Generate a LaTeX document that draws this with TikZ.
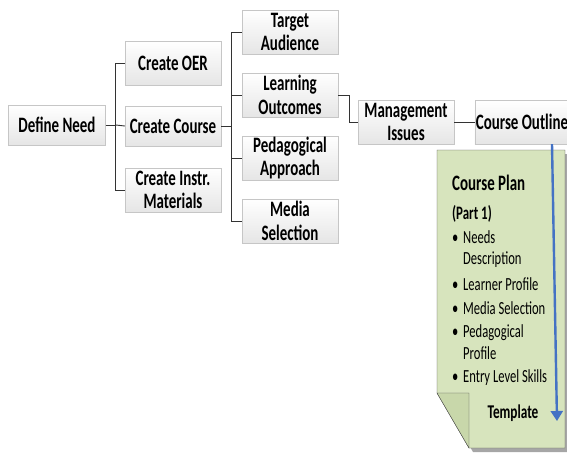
\documentclass[tikz,border=0pt]{standalone}
\usepackage{fontspec}
\setmainfont[FakeStretch=0.68]{Carlito}
\usetikzlibrary{arrows.meta}
\definecolor{notegreen}{RGB}{215,228,189}
\definecolor{foldgreen}{RGB}{200,215,170}
\definecolor{arrowblue}{RGB}{68,114,196}
\tikzset{%
  box/.style={draw=gray!45, top color=white, bottom color=gray!20, minimum width=96pt, minimum height=44pt, align=center, inner sep=1pt, font=\bfseries\fontsize{22}{23.5}\selectfont},
  link/.style={draw=black!80, line width=0.9pt},
  item/.style={anchor=base west, inner sep=0pt, font=\fontsize{18.5}{20}\selectfont},
  tipB/.tip={Triangle[width=12pt,length=10pt]}
}
\newcommand{\bul}{\makebox[11pt][l]{\textbullet}}

\begin{document}
\begin{tikzpicture}[x=1pt,y=-1pt]
\useasboundingbox (0,0) rectangle (567,455);
% boxes
\node[box, minimum width=97pt, minimum height=40pt] (need) at (57,125) {Define Need};
\node[box] (oer) at (173,63) {Create OER};
\node[box, minimum height=40pt] (course) at (173,126) {Create Course};
\node[box] (instr) at (173,190) {Create Instr.\\Materials};
\node[box] (audience) at (290,32) {Target\\Audience};
\node[box] (outcomes) at (290,95) {Learning\\Outcomes};
\node[box] (approach) at (290,158) {Pedagogical\\Approach};
\node[box] (media) at (290,221) {Media\\Selection};
\node[box] (issues) at (406,122) {Management\\Issues};
\node[box, minimum width=94pt] (outline) at (522,122) {Course Outline};
% connectors
\draw[link] (need.east) -- ++(10,0) coordinate (j1);
\draw[link] (j1) |- (oer.west);
\draw[link] (j1) -- (course.west);
\draw[link] (j1) |- (instr.west);
\draw[link] (course.east) -- ++(10,0) coordinate (j2);
\draw[link] (j2) |- (audience.west);
\draw[link] (j2) |- (outcomes.west);
\draw[link] (j2) |- (approach.west);
\draw[link] (j2) |- (media.west);
\draw[link] (outcomes.east) -- ++(11,0) coordinate (j3);
\draw[link] (j3) |- (issues.west);
\draw[link] (issues.east) -- (outline.west);
% note
\fill[gray!70] (441,154) -- (569,154) -- (569,452) -- (473,452) -- (441,397) -- cycle;
\filldraw[draw=black!70, fill=notegreen] (437,150) -- (565,150) -- (565,448) -- (469,448) -- (437,393) -- cycle;
\filldraw[draw=black!70, fill=foldgreen] (437,393) -- (469,393) -- (469,448) -- cycle;
\node[item, font=\bfseries\fontsize{22}{23}\selectfont] (plan) at (452,190) {Course Plan};
\node[item, font=\bfseries\fontsize{19}{20}\selectfont] (part) at (452,219) {(Part 1)};
\node[item] (b1) at (452,243) {\bul Needs};
\node[item] (b1a) at (463,264) {Description};
\node[item] (b2) at (452,290) {\bul Learner Profile};
\node[item] (b3) at (452,314) {\bul Media Selection};
\node[item] (b4) at (452,337) {\bul Pedagogical};
\node[item] (b4a) at (463,359) {Profile};
\node[item] (b5) at (452,382) {\bul Entry Level Skills};
\node[item, anchor=base, font=\bfseries\fontsize{19.5}{21}\selectfont] (templ) at (513,418) {Template};
% arrow
\coordinate (tip) at (557,421);
\draw[arrowblue, line width=2.4pt, -tipB] ([xshift=30pt]outline.south) -- (tip);
\end{tikzpicture}
\end{document}
